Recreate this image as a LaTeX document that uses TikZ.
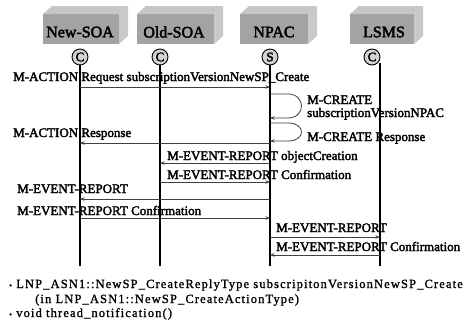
\documentclass[tikz,border=0pt]{standalone}
\usepackage{fontspec}
\setmainfont{Liberation Serif}
\newfontfamily\lblfont[FakeBold=2.5]{Liberation Serif}
\newfontfamily\notefont[LetterSpace=9,FakeBold=1.2]{Liberation Serif}
\usetikzlibrary{arrows.meta}

\tikzset{
  lifeline/.style={line width=1.5pt},
  msg/.style={line width=0.8pt, draw=black!75, -{Stealth[length=4.5pt,width=3.5pt]}},
  lbl/.style={font=\lblfont\fontsize{13}{15}\selectfont, inner sep=0pt, anchor=base west},
  role/.style={circle, draw, line width=0.9pt, fill=gray!35, minimum size=16pt,
    inner sep=0pt, font=\lblfont\fontsize{13}{13}\selectfont},
  boxtitle/.style={font=\lblfont\fontsize{16}{18}\selectfont, inner sep=0pt},
  note/.style={font=\notefont\fontsize{12.5}{14}\selectfont, inner sep=0pt, anchor=base west},
}

% 3-D block for a participant: #1 left x, #2 front width, #3 title, #4 node name, #5 title centre x
\newcommand\agentbox[5]{%
  \fill[gray!72] (#1,14) rectangle ++(#2,30);
  \fill[gray!45] (#1,14) -- ++(9,-8) -- ++(#2,0) -- ++(-9,8) -- cycle;
  \fill[gray!42] (#1+#2,14) -- ++(9,-8) -- ++(0,30) -- ++(-9,8) -- cycle;
  \node[boxtitle] (#4) at (#5,32) {#3};
}

\begin{document}
\begin{tikzpicture}[x=1pt,y=-1pt]
\useasboundingbox (0,0) rectangle (466,324);
\fill[white] (0,0) rectangle (466,324);

% participants
\agentbox{43}{76}{New-SOA}{bnsoa}{80}
\agentbox{137}{77}{Old-SOA}{bosoa}{174}
\agentbox{240}{68}{NPAC}{bnpac}{274}
\agentbox{350}{64}{LSMS}{blsms}{384}

\node[role] (cnsoa) at (80,57) {C};
\node[role] (cosoa) at (160,57) {C};
\node[role] (cnpac) at (270,57) {S};
\node[role] (clsms) at (372,57) {C};

% lifelines
\coordinate (nsoa) at (80,266);
\coordinate (osoa) at (160,266);
\coordinate (npac) at (270,266);
\coordinate (lsms) at (380,266);
\coordinate (lsmsT) at (380,63);
\draw[lifeline] (cnsoa) -- (nsoa);
\draw[lifeline] (cosoa) -- (osoa);
\draw[lifeline] (cnpac) -- (npac);
\draw[lifeline] (lsmsT) -- (lsms);

% message rows
\coordinate (r1) at (0,87);
\coordinate (l1a) at (0,94);
\coordinate (l1b) at (0,118);
\coordinate (l2a) at (0,123);
\coordinate (l2b) at (0,141);
\coordinate (r4) at (0,143);
\coordinate (r5) at (0,163);
\coordinate (r6) at (0,182);
\coordinate (r7) at (0,199);
\coordinate (r8) at (0,218);
\coordinate (r9) at (0,237);
\coordinate (r10) at (0,255);

% messages
\draw[msg] (nsoa |- r1) -- (npac |- r1);
\draw[msg] (npac |- l1a) -- ++(18,0) .. controls +(18,0) and +(18,0) .. ([xshift=18pt]npac |- l1b) -- (npac |- l1b);
\draw[msg] (npac |- l2a) -- ++(18,0) .. controls +(18,0) and +(18,0) .. ([xshift=18pt]npac |- l2b) -- (npac |- l2b);
\draw[msg] (npac |- r4) -- (nsoa |- r4);
\draw[msg] (npac |- r5) -- (osoa |- r5);
\draw[msg] (osoa |- r6) -- (npac |- r6);
\draw[msg] (npac |- r7) -- (nsoa |- r7);
\draw[msg] (nsoa |- r8) -- (npac |- r8);
\draw[msg] (npac |- r9) -- (lsms |- r9);
\draw[msg] (lsms |- r10) -- (npac |- r10);

% message labels
\node[lbl] (t1) at (13,81) {M-ACTION Request subscriptionVersionNewSP\_Create};
\node[lbl] (t2) at (307,104) {M-CREATE};
\node[lbl] (t3) at (307,117) {subscriptionVersionNPAC};
\node[lbl] (t4) at (307,141) {M-CREATE Response};
\node[lbl] (t5) at (13,137) {M-ACTION Response};
\node[lbl] (t6) at (167,160) {M-EVENT-REPORT objectCreation};
\node[lbl] (t7) at (167,179) {M-EVENT-REPORT Confirmation};
\node[lbl] (t8) at (17,193) {M-EVENT-REPORT};
\node[lbl] (t9) at (17,215) {M-EVENT-REPORT Confirmation};
\node[lbl] (t10) at (276,232) {M-EVENT-REPORT};
\node[lbl] (t11) at (276,251) {M-EVENT-REPORT Confirmation};

% notes
\node[note] (n1) at (9,288) {{\fontsize{8}{8}\selectfont\textbullet}\ LNP\_ASN1::NewSP\_CreateReplyType subscripitonVersionNewSP\_Create};
\node[note] (n2) at (35,303) {(in LNP\_ASN1::NewSP\_CreateActionType)};
\node[note] (n3) at (9,317) {{\fontsize{8}{8}\selectfont\textbullet}\ void thread\_notification()};
\end{tikzpicture}
\end{document}
